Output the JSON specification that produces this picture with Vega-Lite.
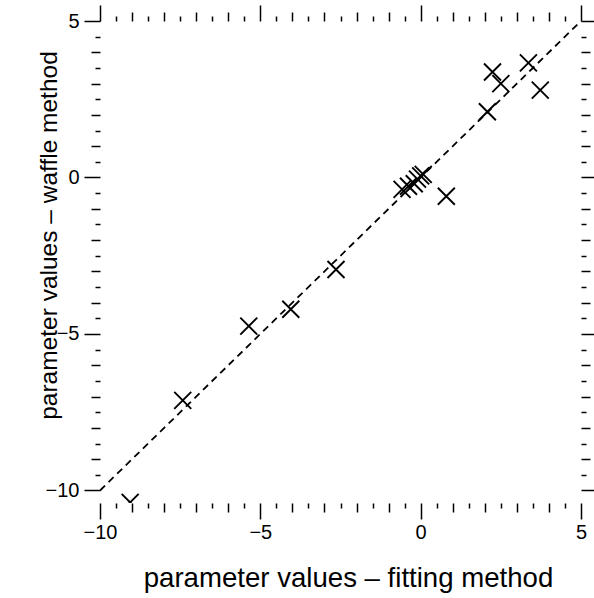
{
  "$schema": "https://vega.github.io/schema/vega-lite/v6.json",
  "width": 481,
  "height": 482,
  "autosize": {"type": "none"},
  "padding": {"left": 100, "top": 21, "right": 13, "bottom": 95},
  "background": "white",
  "config": {
    "view": {"stroke": null},
    "axis": {
      "grid": false,
      "domain": false,
      "tickColor": "black",
      "tickWidth": 1.5,
      "labelColor": "black",
      "labelFont": "Liberation Sans",
      "labelFontSize": 20,
      "labelFlush": false,
      "labelOverlap": false,
      "format": "d",
      "titleFont": "Liberation Sans",
      "titleFontSize": 27,
      "titleFontWeight": "normal",
      "titleColor": "black"
    }
  },
  "datasets": {
    "pts": [
      {"fit": -9.06, "waffle": -10.38},
      {"fit": -7.42, "waffle": -7.12},
      {"fit": -5.36, "waffle": -4.75},
      {"fit": -4.05, "waffle": -4.21},
      {"fit": -2.64, "waffle": -2.94},
      {"fit": -0.58, "waffle": -0.38},
      {"fit": -0.38, "waffle": -0.28},
      {"fit": -0.2, "waffle": -0.2},
      {"fit": -0.1, "waffle": -0.05},
      {"fit": 0.0, "waffle": 0.05},
      {"fit": 0.08, "waffle": 0.1},
      {"fit": 0.8, "waffle": -0.6},
      {"fit": 2.08, "waffle": 2.1},
      {"fit": 2.24, "waffle": 3.37},
      {"fit": 2.5, "waffle": 3.0},
      {"fit": 3.36, "waffle": 3.66},
      {"fit": 3.73, "waffle": 2.79}
    ],
    "diag": [
      {"fit": -10, "waffle": -10},
      {"fit": 5, "waffle": 5}
    ]
  },
  "layer": [
    {
      "data": {"name": "diag"},
      "mark": {"type": "line", "color": "black", "strokeWidth": 1.8, "strokeDash": [7, 5], "clip": true},
      "encoding": {
        "x": {
          "field": "fit", "type": "quantitative",
          "scale": {"domain": [-10, 5], "nice": false, "zero": false},
          "axis": {
            "orient": "bottom",
            "values": [-10,-9.5,-9,-8.5,-8,-7.5,-7,-6.5,-6,-5.5,-5,-4.5,-4,-3.5,-3,-2.5,-2,-1.5,-1,-0.5,0,0.5,1,1.5,2,2.5,3,3.5,4,4.5,5],
            "tickSize": {"condition": [{"test": "datum.value % 5 === 0", "value": 16}, {"test": "datum.value % 1 === 0", "value": 9}], "value": 5},
            "labelExpr": "datum.value % 5 === 0 ? datum.label : ''",
            "labelPadding": 3,
            "title": "parameter values – fitting method",
            "titleFontSize": 27.6,
            "titleX": 248,
            "titleY": 83,
            "titleBaseline": "alphabetic",
            "titleAlign": "center"
          }
        },
        "y": {
          "field": "waffle", "type": "quantitative",
          "scale": {"domain": [-10.4, 5], "nice": false, "zero": false},
          "axis": {
            "orient": "left",
            "values": [-10,-9.5,-9,-8.5,-8,-7.5,-7,-6.5,-6,-5.5,-5,-4.5,-4,-3.5,-3,-2.5,-2,-1.5,-1,-0.5,0,0.5,1,1.5,2,2.5,3,3.5,4,4.5,5],
            "tickSize": {"condition": [{"test": "datum.value % 5 === 0", "value": 16}, {"test": "datum.value % 1 === 0", "value": 9}], "value": 5},
            "labelExpr": "datum.value % 5 === 0 ? datum.label : ''",
            "labelPadding": 5,
            "title": "parameter values – waffle method",
            "titleFontSize": 24.5,
            "titleAngle": -90,
            "titleX": -44,
            "titleY": 214,
            "titleBaseline": "alphabetic",
            "titleAlign": "center"
          }
        }
      }
    },
    {
      "data": {"name": "pts"},
      "mark": {"type": "point", "shape": "M-1,-1L1,1M1,-1L-1,1", "size": 289, "filled": false, "color": "black", "strokeWidth": 1.9, "opacity": 1, "clip": true},
      "encoding": {
        "x": {
          "field": "fit", "type": "quantitative",
          "scale": {"domain": [-10, 5], "nice": false, "zero": false},
          "axis": {
            "orient": "top",
            "values": [-10,-9.5,-9,-8.5,-8,-7.5,-7,-6.5,-6,-5.5,-5,-4.5,-4,-3.5,-3,-2.5,-2,-1.5,-1,-0.5,0,0.5,1,1.5,2,2.5,3,3.5,4,4.5,5],
            "tickSize": {"condition": [{"test": "datum.value % 5 === 0", "value": 16}, {"test": "datum.value % 1 === 0", "value": 9}], "value": 5},
            "labels": false,
            "title": null
          }
        },
        "y": {
          "field": "waffle", "type": "quantitative",
          "scale": {"domain": [-10.4, 5], "nice": false, "zero": false},
          "axis": {
            "orient": "right",
            "values": [-10,-9.5,-9,-8.5,-8,-7.5,-7,-6.5,-6,-5.5,-5,-4.5,-4,-3.5,-3,-2.5,-2,-1.5,-1,-0.5,0,0.5,1,1.5,2,2.5,3,3.5,4,4.5,5],
            "tickSize": {"condition": [{"test": "datum.value % 5 === 0", "value": 16}, {"test": "datum.value % 1 === 0", "value": 9}], "value": 5},
            "labels": false,
            "title": null
          }
        }
      }
    }
  ],
  "resolve": {"axis": {"x": "independent", "y": "independent"}}
}
